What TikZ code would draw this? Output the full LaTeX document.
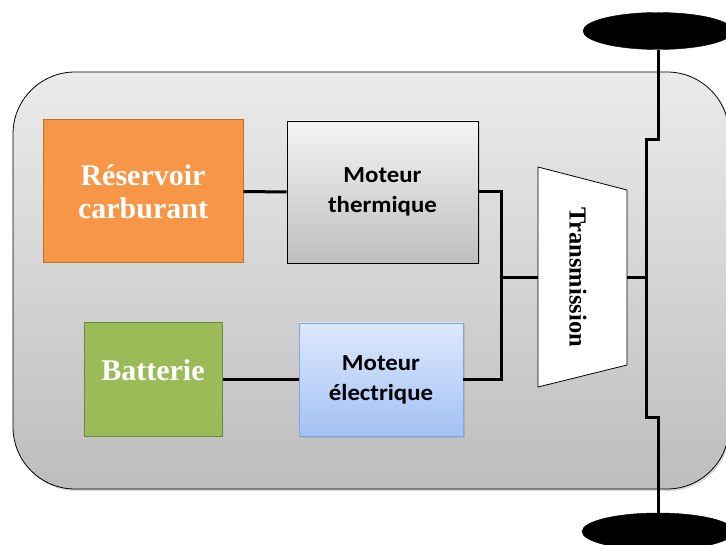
\documentclass[tikz,border=0pt]{standalone}
\usepackage{fontspec}
\setmainfont{Liberation Serif}
\newfontfamily\calib[FakeStretch=1.08]{Carlito}
\usetikzlibrary{shadows,shapes.geometric}
\definecolor{bodytop}{HTML}{EBEBEB}
\definecolor{bodybot}{HTML}{BDBDBD}
\definecolor{orangefill}{HTML}{F79646}
\definecolor{orangeline}{HTML}{B9702F}
\definecolor{greenfill}{HTML}{9BBB59}
\definecolor{greenline}{HTML}{71893F}
\definecolor{bluetop}{HTML}{DDE8FC}
\definecolor{bluebot}{HTML}{A3C1F5}
\definecolor{blueline}{HTML}{7EA6E0}
\definecolor{graytop}{HTML}{F4F4F4}
\definecolor{graybot}{HTML}{BEBEBE}
\tikzset{
  conn/.style={line width=3pt, line join=miter},
  srcbox/.style={draw, line width=1pt, inner sep=0pt, text=white,
     font=\bfseries\fontsize{30}{33}\selectfont, align=center},
  motbox/.style={draw, line width=0.8pt, inner sep=0pt,
     font=\calib\bfseries\fontsize{23}{30}\selectfont, align=center,
     drop shadow={opacity=0.25, shadow xshift=1.5pt, shadow yshift=-1.5pt}},
  wheel/.style={ellipse, fill=black, draw=black, inner sep=0pt, minimum height=37pt}
}
\begin{document}
\begin{tikzpicture}[x=1pt,y=1pt]
\useasboundingbox (0,0) rectangle (726,-545);
\clip (0,0) rectangle (726,-545);
% car body
\path[draw=black, line width=0.8pt, rounded corners=62pt,
  top color=bodytop, bottom color=bodybot,
  drop shadow={opacity=0.3, shadow xshift=1.5pt, shadow yshift=-2pt}]
  (13,-72) rectangle (729,-489);
% wheels
\node[wheel, minimum width=150pt] (wtop) at (658,-31) {};
\node[wheel, minimum width=152pt] (wbot) at (658,-531.5) {};
% boxes
\node[srcbox, fill=orangefill, draw=orangeline, minimum width=200pt, minimum height=143pt] (res) at (143,-191.5) {Réservoir\\carburant};
\node[srcbox, fill=greenfill, draw=greenline, minimum width=138pt, minimum height=113pt, text depth=19pt] (bat) at (153,-379.5) {Batterie};
\node[motbox, top color=graytop, bottom color=graybot, draw=black, minimum width=191pt, minimum height=142pt] (mth) at (382.5,-192) {Moteur\\thermique};
\node[motbox, top color=bluetop, bottom color=bluebot, draw=blueline, minimum width=164pt, minimum height=113pt] (mel) at (381,-379.5) {Moteur\\électrique};
% transmission
\path[draw=black, line width=0.8pt, fill=white] (538,-167) -- (627,-190) -- (627,-365) -- (538,-387) -- cycle;
\coordinate (trL) at (538,-278);
\coordinate (trR) at (627,-278);
\node[rotate=-90, font=\bfseries\fontsize{24.5}{28}\selectfont] (trtext) at (578,-277) {Transmission};
% connectors
\coordinate (j1) at (501,-192);
\coordinate (j2) at (501,-379.5);
\coordinate (jm) at (501,-278);
\coordinate (ax) at (646,-278);
\draw[conn] (res.east) -- (mth.west);
\draw[conn] (bat.east) -- (mel.west);
\draw[conn] (mth.east) -- (j1) -- (j2) -- (mel.east);
\draw[conn] (jm) -- (trL);
\draw[conn] (trR) -- (ax);
\draw[conn] (wtop.south) -- (658,-140) -- (646,-140) -- (646,-417) -- (658,-417) -- (wbot.north);
\end{tikzpicture}
\end{document}
